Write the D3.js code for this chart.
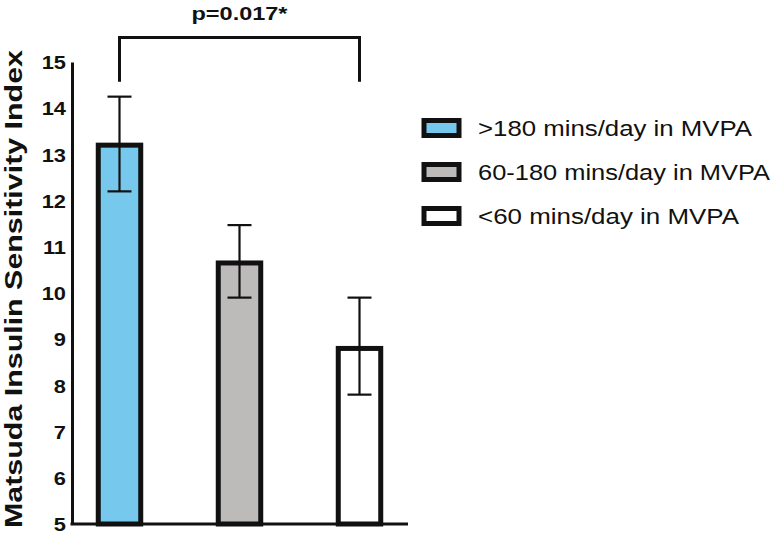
<!DOCTYPE html>
<html>
<head>
<meta charset="utf-8">
<script src="https://cdn.jsdelivr.net/npm/d3@7"></script>
<style>
  body { margin: 0; background: #fff; }
  text { font-family: "Liberation Sans", Arial, sans-serif; fill: #111; }
</style>
</head>
<body>
<svg id="chart" width="776" height="542"></svg>
<script>
// data
const categories = ['>180 mins/day in MVPA', '60-180 mins/day in MVPA', '<60 mins/day in MVPA'];
const means = [13.2, 10.65, 8.8];
const errLow = [12.2, 9.9, 7.8];
const errHigh = [14.25, 11.47, 9.9];
const colors = ['#76c8ed', '#bdbaba', '#ffffff'];
const yTicks = [5, 6, 7, 8, 9, 10, 11, 12, 13, 14, 15];
const sigLabel = 'p=0.017*';
const sigLevels = [14.57, 15.53]; // bracket leg bottom / bracket top

const svg = d3.select('#chart');
const ink = '#111';

const x = d3.scaleBand()
  .domain(categories)
  .range([59.5, 419.5])
  .paddingInner(0.646)
  .paddingOuter(0.323);

const y = d3.scaleLinear()
  .domain([5, 15])
  .range([524, 62]);

const cx = d => x(d) + x.bandwidth() / 2;

// y axis
const yAxis = svg.append('g')
  .attr('transform', 'translate(72,0)')
  .call(d3.axisLeft(y).tickValues(yTicks).tickSize(0).tickSizeOuter(0).tickPadding(6));
yAxis.select('.domain').attr('stroke', ink).attr('stroke-width', 3);
yAxis.selectAll('.tick text')
  .attr('font-family', '"Liberation Sans", Arial, sans-serif')
  .attr('font-size', 18.5)
  .attr('font-weight', 'bold')
  .attr('fill', ink)
  .attr('dy', '0.36em')
  .attr('textLength', function () { return this.getComputedTextLength() * 1.18; })
  .attr('lengthAdjust', 'spacingAndGlyphs');

// bars
svg.selectAll('.bar')
  .data(categories)
  .enter().append('rect')
  .attr('class', 'bar')
  .attr('x', d => x(d))
  .attr('width', x.bandwidth())
  .attr('y', (d, i) => y(means[i]))
  .attr('height', (d, i) => y(5) - y(means[i]))
  .attr('fill', (d, i) => colors[i])
  .attr('stroke', ink)
  .attr('stroke-width', 5);

// x axis line (no ticks), drawn over bar bottoms
svg.append('line')
  .attr('x1', 70.5).attr('x2', 408)
  .attr('y1', y(5)).attr('y2', y(5))
  .attr('stroke', ink).attr('stroke-width', 3);

// error bars
const err = svg.append('g').attr('stroke', ink).attr('stroke-width', 2.2);
categories.forEach((c, i) => {
  err.append('line')
    .attr('x1', cx(c)).attr('x2', cx(c))
    .attr('y1', y(errLow[i])).attr('y2', y(errHigh[i]));
  [errLow[i], errHigh[i]].forEach(v => {
    err.append('line')
      .attr('x1', cx(c) - 12).attr('x2', cx(c) + 12)
      .attr('y1', y(v)).attr('y2', y(v));
  });
});

// significance bracket
const bx0 = cx(categories[0]), bx1 = cx(categories[2]);
svg.append('path')
  .attr('d', `M${bx0},${y(sigLevels[0])}V${y(sigLevels[1])}H${bx1}V${y(sigLevels[0])}`)
  .attr('fill', 'none')
  .attr('stroke', ink)
  .attr('stroke-width', 3);
svg.append('text')
  .attr('x', (bx0 + bx1) / 2)
  .attr('y', 19.5)
  .attr('text-anchor', 'middle')
  .attr('font-size', 19)
  .attr('font-weight', 'bold')
  .attr('textLength', 96)
  .attr('lengthAdjust', 'spacingAndGlyphs')
  .text(sigLabel);

// y title
svg.append('text')
  .attr('transform', 'translate(22,289) rotate(-90)')
  .attr('text-anchor', 'middle')
  .attr('font-size', 23.5)
  .attr('font-weight', 'bold')
  .attr('textLength', 478)
  .attr('lengthAdjust', 'spacingAndGlyphs')
  .text('Matsuda Insulin Sensitivity Index');

// legend
const legendY = d3.scalePoint().domain(categories).range([128, 216]);
const legendWidths = [274, 292, 261];
const lg = svg.append('g');
categories.forEach((c, i) => {
  lg.append('rect')
    .attr('x', 424).attr('y', legendY(c) - 7.5)
    .attr('width', 35).attr('height', 15)
    .attr('fill', colors[i])
    .attr('stroke', ink)
    .attr('stroke-width', 5);
  lg.append('text')
    .attr('x', 478)
    .attr('y', legendY(c) + 8)
    .attr('font-size', 22)
    .attr('textLength', legendWidths[i])
    .attr('lengthAdjust', 'spacingAndGlyphs')
    .text(c);
});
</script>
</body>
</html>
